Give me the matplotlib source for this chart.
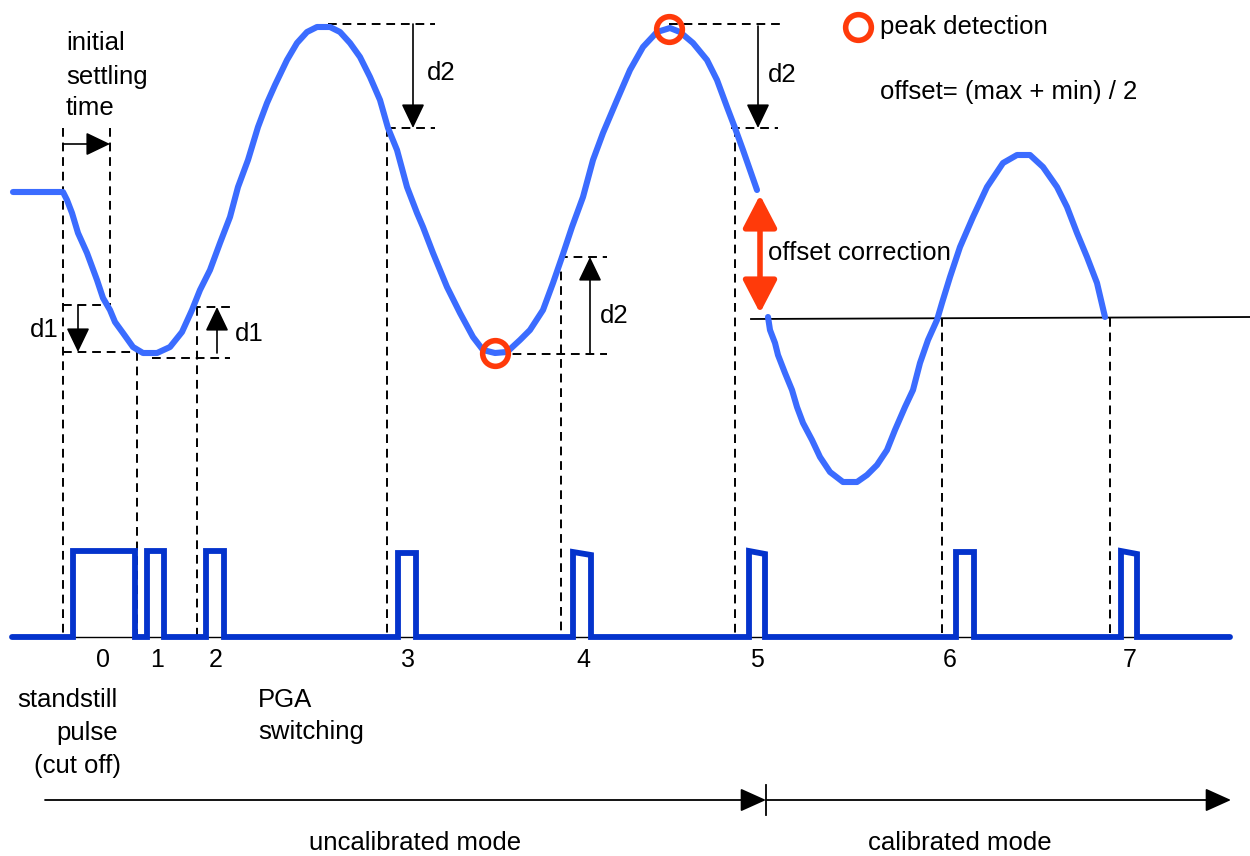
import matplotlib.pyplot as plt

# all positions are in reference-pixel units (x right, y down)
wave1_x = [13, 63, 67, 72, 78, 87, 97, 103, 110, 115, 123, 133, 143, 157, 170, 182, 192, 200,
           210, 220, 230, 238, 248, 258, 267, 275, 287, 297, 307, 317, 330, 340, 350, 360,
           370, 380, 388, 397, 407, 417, 423, 433, 447, 460, 473, 483, 495, 507, 520, 530,
           543, 553, 562, 572, 583, 593, 603, 617, 630, 643, 657, 670, 680, 693, 707, 717,
           727, 735, 743, 750, 757]
wave1_y = [192, 192, 200, 213, 233, 253, 280, 298, 310, 322, 333, 347, 353, 353, 347, 332, 310, 290,
           270, 243, 217, 187, 160, 127, 103, 85, 60, 43, 32, 27, 27, 32, 43, 57,
           77, 100, 128, 150, 187, 213, 227, 253, 287, 313, 337, 350, 353, 352, 340, 330,
           310, 283, 257, 227, 197, 160, 133, 100, 70, 47, 32, 28, 32, 43, 60, 80,
           107, 128, 150, 170, 190]

wave2_x = [768, 770, 775, 778, 785, 792, 797, 803, 812, 820, 830, 843, 857, 867, 877, 887, 895,
           905, 913, 920, 928, 937, 942, 950, 960, 973, 987, 1003, 1017, 1030, 1043, 1057,
           1067, 1077, 1087, 1097, 1105]
wave2_y = [317, 330, 343, 355, 373, 390, 407, 423, 440, 457, 472, 482, 482, 475, 465, 450, 430,
           407, 390, 363, 340, 320, 303, 277, 247, 217, 187, 163, 155, 155, 167, 187,
           207, 233, 257, 283, 317]

pulse_rise = [73, 147, 206, 398, 573, 749, 956, 1121]
pulse_fall = [135, 164, 224, 416, 591, 765, 974, 1137]
pulse_top_l = [551, 551, 551, 553, 552, 551, 552, 551]
pulse_top_r = [551, 551, 551, 553, 555, 554, 552, 554]
base_y = 637
base_x0, base_x1 = 12, 1230

tick_labels = ["0", "1", "2", "3", "4", "5", "6", "7"]
tick_x = [103, 157, 216, 408, 583, 757, 950, 1130]

peaks_x = [495, 669]
peaks_y = [353, 29]

# dashed guide lines (x0, y0, x1, y1)
guides = [(63, 128, 63, 636), (110, 128, 110, 305), (63, 305, 110, 305),
          (63, 352, 138, 352), (137, 352, 137, 636), (152, 358, 230, 358),
          (192, 307, 230, 307), (197, 307, 197, 636), (328, 24, 435, 24),
          (387, 128, 435, 128), (387, 128, 387, 636), (498, 354, 607, 354),
          (559, 257, 607, 257), (561, 257, 561, 636), (669, 24, 782, 24),
          (731, 128, 778, 128), (735, 128, 735, 636), (942, 318, 942, 636),
          (1110, 318, 1110, 636)]

# dimension arrows, tail -> head
dim_arrows = [(63, 144, 110, 144), (78, 305, 78, 352), (217, 353, 217, 307),
              (413, 24, 413, 128), (758, 26, 758, 128), (590, 354, 590, 257)]

labels = [(66, 43, "initial", "left"), (66, 77, "settling", "left"), (66, 108, "time", "left"),
          (30, 330, "d1", "left"), (235, 334, "d1", "left"),
          (427, 73, "d2", "left"), (768, 75, "d2", "left"), (600, 316, "d2", "left"),
          (880, 27, "peak detection", "left"), (880, 92, "offset= (max + min) / 2", "left"),
          (768, 253, "offset correction", "left"),
          (118, 700, "standstill", "right"), (118, 733, "pulse", "right"),
          (121, 766, "(cut off)", "right"),
          (258, 700, "PGA", "left"), (258, 732, "switching", "left"),
          (415, 843, "uncalibrated mode", "center"), (960, 843, "calibrated mode", "center")]

wave_col = "#3B6CFF"
pulse_col = "#0433CC"
red = "#FF3A0A"

plt.rcParams["font.family"] = ["Liberation Sans", "DejaVu Sans"]

fig = plt.figure(figsize=(12.5, 8.56), dpi=100)
ax = fig.add_axes([0, 0, 1, 1])
ax.set_xlim(0, 1250)
ax.set_ylim(856, 0)
ax.axis("off")

for x0, y0, x1, y1 in guides:
    ax.plot([x0, x1], [y0, y1], color="black", lw=1.4, dashes=(4.5, 3))

# offset reference line
ax.plot([751, 1250], [319, 317], color="black", lw=1.3)

ax.plot(wave1_x, wave1_y, color=wave_col, lw=4.4, solid_capstyle="round", solid_joinstyle="round")
ax.plot(wave2_x, wave2_y, color=wave_col, lw=4.4, solid_capstyle="round", solid_joinstyle="round")

# pulse train
px = [base_x0]
py = [base_y]
for r, f, tl, tr in zip(pulse_rise, pulse_fall, pulse_top_l, pulse_top_r):
    px += [r, r, f, f]
    py += [base_y, tl, tr, base_y]
px.append(base_x1)
py.append(base_y)
ax.plot([base_x0, base_x1], [base_y, base_y], color="black", lw=1)
ax.plot(px, py, color=pulse_col, lw=4.2, solid_capstyle="round", solid_joinstyle="miter")

for t, x in zip(tick_labels, tick_x):
    ax.text(x, 660, t, fontsize=18, ha="center", va="center")

ax.plot(peaks_x, peaks_y, "o", ms=18.5, mfc="none", mec=red, mew=4)
ax.plot([858], [27], "o", ms=18.5, mfc="none", mec=red, mew=4)

for x0, y0, x1, y1 in dim_arrows:
    ax.annotate("", xy=(x1, y1), xytext=(x0, y0),
                arrowprops=dict(arrowstyle="-|>,head_length=0.75,head_width=0.36",
                                mutation_scale=20, color="black", lw=1.2,
                                shrinkA=0, shrinkB=0))

# offset correction double arrow
ax.annotate("", xy=(760, 313), xytext=(760, 195),
            arrowprops=dict(arrowstyle="<|-|>,head_length=1.0,head_width=0.52",
                            mutation_scale=20, color=red, lw=4,
                            shrinkA=0, shrinkB=0))

# mode arrows at the bottom
for x0, x1 in [(45, 766), (766, 1231)]:
    ax.annotate("", xy=(x1, 800), xytext=(x0, 800),
                arrowprops=dict(arrowstyle="-|>,head_length=0.8,head_width=0.36",
                                mutation_scale=20, color="black", lw=1.3,
                                shrinkA=0, shrinkB=0))
ax.plot([766, 766], [785, 815], color="black", lw=1.3)

for x, y, t, ha in labels:
    ax.text(x, y, t, fontsize=18.5, ha=ha, va="center")

fig.savefig("out.png", dpi=100)
